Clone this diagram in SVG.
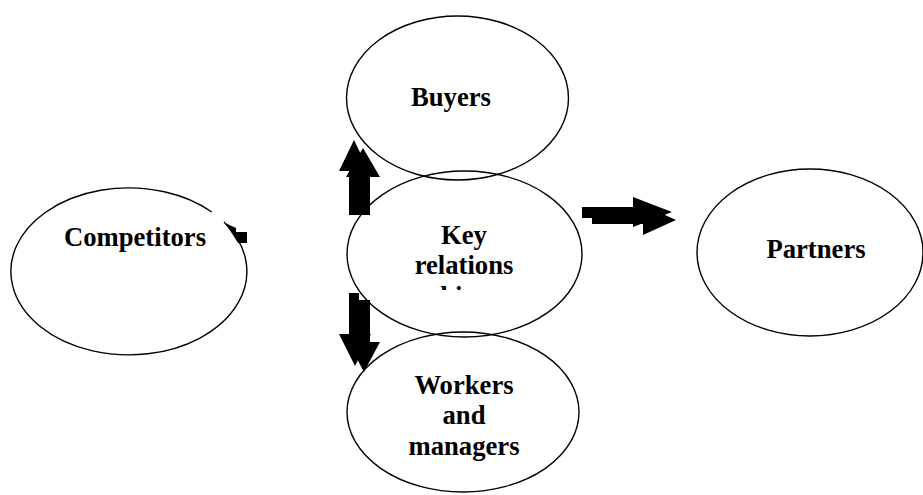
<svg xmlns="http://www.w3.org/2000/svg" width="923" height="495" viewBox="0 0 923 495">
<style>
.node{fill:none;stroke:#000;stroke-width:1.4}
.lbl{font-family:"Liberation Serif","Times New Roman",serif;font-weight:bold;font-size:26.67px;fill:#000;text-anchor:middle}
.arr{fill:#000;stroke:none}
</style>
<defs>
<clipPath id="keyclip"><rect x="340" y="170" width="250" height="120"/></clipPath>
</defs>
<rect width="923" height="495" fill="#fff"/>
<g id="competitors">
<path class="node" d="M224,222 A118,83.5 0 1 1 211.8,212"/>
<text class="lbl" x="135" y="246">Competitors</text>
</g>
<g id="buyers">
<ellipse class="node" cx="457.5" cy="98" rx="111" ry="82"/>
<text class="lbl" x="451" y="106">Buyers</text>
</g>
<g id="key">
<ellipse class="node" cx="464.5" cy="254" rx="117.5" ry="83"/>
<g clip-path="url(#keyclip)">
<text class="lbl" x="464" y="244">Key</text>
<text class="lbl" x="464" y="274">relations</text>
<text class="lbl" x="464" y="304.5">hips</text>
</g>
</g>
<g id="workers">
<ellipse class="node" cx="463" cy="412" rx="116" ry="80"/>
<text class="lbl" x="464" y="394">Workers</text>
<text class="lbl" x="464" y="424">and</text>
<text class="lbl" x="464" y="455">managers</text>
</g>
<g id="partners">
<ellipse class="node" cx="810" cy="252.5" rx="113" ry="83.5"/>
<text class="lbl" x="816" y="258">Partners</text>
</g>
<g id="connectors">
<polygon class="arr" points="225,223 236,228 236,232 247,232 247,243 238,243 233,235"/>
<polygon class="arr" points="349,215 349,171 339,171 354,140 369,171 361,171 361,215"/>
<polygon class="arr" points="358,215 358,177 346,177 363,148 380,177 370,177 370,215"/>
<polygon class="arr" points="349,293 349,334 339,334 355,366 371,334 359,334 359,293"/>
<polygon class="arr" points="358,300 358,342 348,342 364,372 380,342 370,342 370,300"/>
<polygon class="arr" points="582,207 633,207 633,197 672,212 633,227 633,218 582,218"/>
<polygon class="arr" points="592,213 643,213 643,205 676,220 643,235 643,224 592,224"/>
</g>
</svg>
